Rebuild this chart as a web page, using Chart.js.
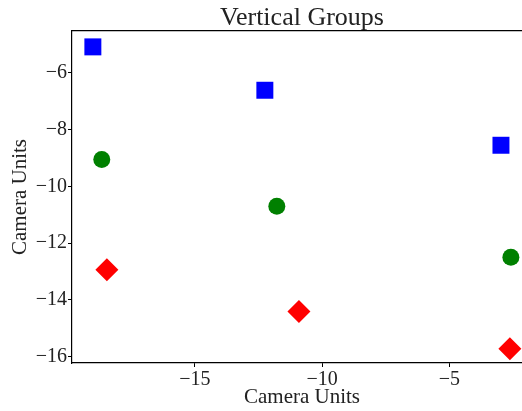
<!DOCTYPE html>
<html>
<head>
<meta charset="utf-8">
<script src="https://cdn.jsdelivr.net/npm/chart.js@4.4.1/dist/chart.umd.min.js"></script>
<style>
  html, body { margin: 0; padding: 0; background: #fff; }
  #wrap { width: 522px; height: 411px; overflow: hidden; }
  canvas { display: block; }
</style>
</head>
<body>
<div id="wrap">
  <canvas id="chart" width="540" height="411"></canvas>
</div>
<script>
// three vertical groups, each group has one marker per shape
const squaresX = [-19.01, -12.25, -2.97];
const squaresY = [-5.08, -6.61, -8.55];
const circlesX = [-18.66, -11.78, -2.58];
const circlesY = [-9.05, -10.70, -12.50];
const diamondsX = [-18.46, -10.91, -2.62];
const diamondsY = [-12.94, -14.41, -15.73];

const xTicks = [-15, -10, -5];
const yTicks = [-16, -14, -12, -10, -8, -6];

const serif = '"Liberation Serif", "DejaVu Serif", serif';
const minus = v => String(v).replace('-', '\u2212');

function points(xs, ys) {
  return xs.map((x, i) => ({ x: x, y: ys[i] }));
}

const ctx = document.getElementById('chart').getContext('2d');
new Chart(ctx, {
  type: 'scatter',
  data: {
    datasets: [
      {
        data: points(squaresX, squaresY),
        pointStyle: 'rect',
        pointRadius: 12,
        backgroundColor: '#0000ff',
        borderWidth: 0
      },
      {
        data: points(circlesX, circlesY),
        pointStyle: 'circle',
        pointRadius: 8.5,
        backgroundColor: '#008000',
        borderWidth: 0
      },
      {
        data: points(diamondsX, diamondsY),
        pointStyle: 'rectRot',
        pointRadius: 11.5,
        backgroundColor: '#ff0000',
        borderWidth: 0
      }
    ]
  },
  options: {
    responsive: false,
    animation: false,
    layout: { autoPadding: false, padding: { left: 0, right: 8, top: 0, bottom: 0 } },
    plugins: {
      legend: { display: false },
      tooltip: { enabled: false }
    },
    scales: {
      x: {
        type: 'linear',
        min: -19.83,
        max: -1.75,
        afterBuildTicks: s => { s.ticks = xTicks.map(v => ({ value: v })); },
        afterFit: s => { s.height = 48; s.paddingLeft = 0; s.paddingRight = 0; },
        ticks: {
          color: '#222',
          padding: 1,
          maxRotation: 0,
          font: { family: serif, size: 20 },
          callback: v => minus(v)
        },
        grid: { drawOnChartArea: false, drawTicks: true, tickLength: 4, color: '#000' },
        border: { display: true, color: '#000', width: 1.2 },
        title: {
          display: true,
          text: 'Camera Units',
          color: '#222',
          font: { family: serif, size: 21, lineHeight: '24px' },
          padding: { top: 0, bottom: 2 }
        }
      },
      // top spine, also carries the chart title centred over the plot
      xTop: {
        type: 'linear',
        position: 'top',
        min: -19.83,
        max: -1.75,
        afterFit: s => { s.height = 31; s.paddingLeft = 0; s.paddingRight = 0; },
        ticks: { display: false },
        grid: { display: false, drawTicks: false },
        border: { display: true, color: '#000', width: 1.2 },
        title: {
          display: true,
          text: 'Vertical Groups',
          color: '#222',
          font: { family: serif, size: 26, lineHeight: '26px' },
          padding: { top: 5, bottom: 0 }
        }
      },
      y: {
        type: 'linear',
        min: -16.23,
        max: -4.52,
        afterBuildTicks: s => { s.ticks = yTicks.map(v => ({ value: v })); },
        afterFit: s => { s.width = 72; s.paddingTop = 0; s.paddingBottom = 0; },
        ticks: {
          color: '#222',
          padding: 1,
          font: { family: serif, size: 20 },
          callback: v => minus(v)
        },
        grid: { drawOnChartArea: false, drawTicks: true, tickLength: 4, color: '#000' },
        border: { display: true, color: '#000', width: 1.2 },
        title: {
          display: true,
          text: 'Camera Units',
          color: '#222',
          font: { family: serif, size: 21, lineHeight: '24px' },
          padding: { top: 8, bottom: 0 }
        }
      }
    }
  }
});
</script>
</body>
</html>
